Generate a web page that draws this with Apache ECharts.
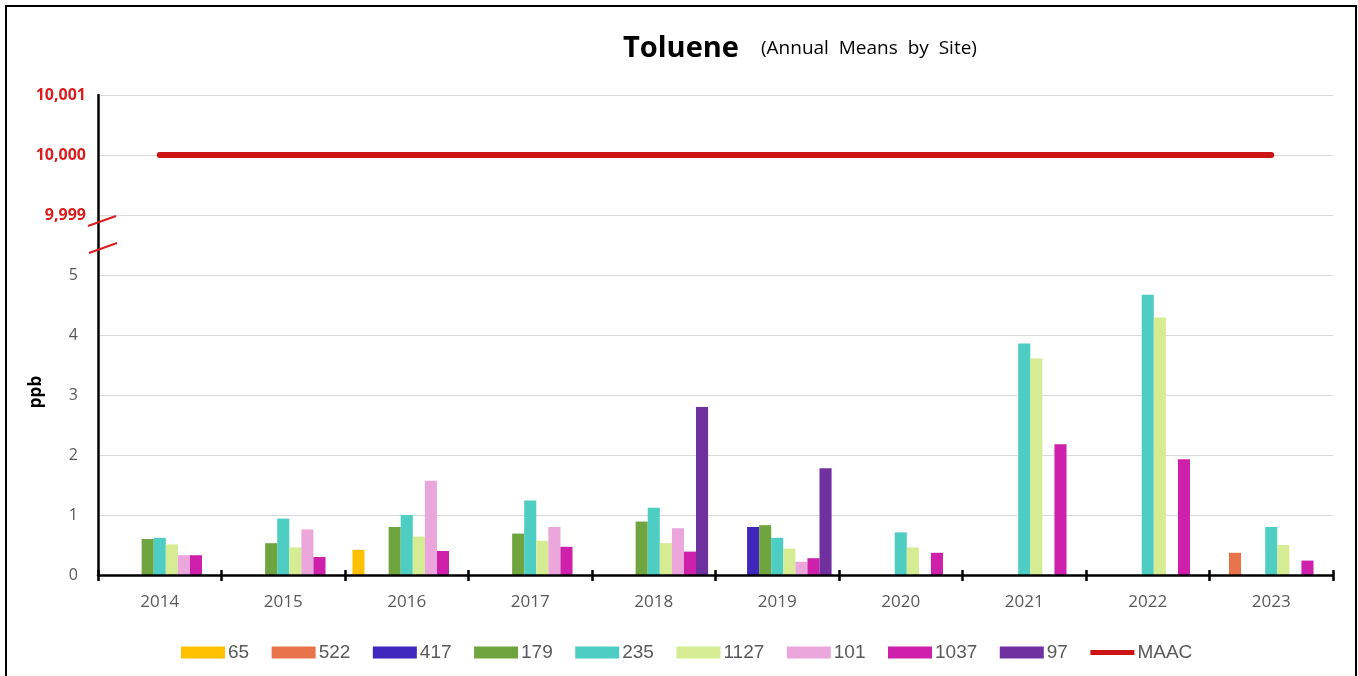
<!DOCTYPE html>
<html>
<head>
<meta charset="utf-8">
<script src="https://cdn.jsdelivr.net/npm/echarts@6/dist/echarts.min.js"></script>
<style>
  html, body { margin: 0; padding: 0; background: #ffffff; }
  #chart { width: 1358px; height: 676px; }
</style>
</head>
<body>
<div id="chart"></div>
<script>
// Annual mean toluene concentrations (ppb) by monitoring site
const years = ['2014', '2015', '2016', '2017', '2018', '2019', '2020', '2021', '2022', '2023'];

const site65   = [null, null, 0.42, null, null, null, null, null, null, null];
const site522  = [null, null, null, null, null, null, null, null, null, 0.37];
const site417  = [null, null, null, null, null, 0.80, null, null, null, null];
const site179  = [0.60, 0.53, 0.80, 0.69, 0.89, 0.83, null, null, null, null];
const site235  = [0.62, 0.94, 1.00, 1.24, 1.12, 0.62, 0.71, 3.86, 4.67, 0.80];
const site1127 = [0.51, 0.46, 0.64, 0.57, 0.53, 0.44, 0.46, 3.61, 4.29, 0.50];
const site101  = [0.33, 0.76, 1.57, 0.80, 0.78, 0.22, null, null, null, null];
const site1037 = [0.33, 0.30, 0.40, 0.47, 0.39, 0.28, 0.37, 2.18, 1.93, 0.24];
const site97   = [null, null, null, null, 2.80, 1.78, null, null, null, null];
const maac     = [10000, 10000, 10000, 10000, 10000, 10000, 10000, 10000, 10000, 10000];

// Broken value axis: 0..5 ppb shown directly, then 9,999 / 10,000 / 10,001
const lowTop = 5;
const breakOffset = 9993;
function toAxis(v) {
  if (v === null) return null;
  return v <= lowTop ? v : v - breakOffset;
}
function axisLabel(v) {
  if (v <= lowTop) return '{g|' + v + '}';
  return '{r|' + (v + breakOffset).toLocaleString('en-US') + '}';
}

const sites = [
  { name: '65',   data: site65,   color: '#FFC000' },
  { name: '522',  data: site522,  color: '#E8744C' },
  { name: '417',  data: site417,  color: '#3F27BE' },
  { name: '179',  data: site179,  color: '#6FA43F' },
  { name: '235',  data: site235,  color: '#4ECDC2' },
  { name: '1127', data: site1127, color: '#D5EC92' },
  { name: '101',  data: site101,  color: '#EBA6DC' },
  { name: '1037', data: site1037, color: '#CF20AC' },
  { name: '97',   data: site97,   color: '#7030A0' }
];

const labelFont = '"Open Sans", "DejaVu Sans", sans-serif';
const red = '#D81E1E';
const maacRed = '#CC1414';

const series = sites.map(s => ({
  name: s.name,
  type: 'bar',
  xAxisIndex: 0,
  barGap: '0%',
  barCategoryGap: '12%',
  itemStyle: { color: s.color },
  data: s.data.map(toAxis)
}));

series.push({
  name: 'MAAC',
  type: 'line',
  xAxisIndex: 0,
  symbol: 'none',
  z: 20,
  lineStyle: { color: maacRed, width: 6, cap: 'round' },
  itemStyle: { color: maacRed },
  data: maac.map(toAxis)
});

const chart = echarts.init(document.getElementById('chart'), null, { renderer: 'canvas' });

const option = {
  animation: false,
  backgroundColor: '#ffffff',
  title: {
    left: 618,
    top: 29,
    text: '{a|Toluene}{gap|}{b|(Annual  Means  by  Site)}',
    textStyle: {
      fontWeight: 'normal',
      rich: {
        a: { fontFamily: labelFont, fontWeight: 'bold', fontSize: 29, color: '#000000' },
        gap: { width: 22 },
        b: { fontFamily: labelFont, fontWeight: 'normal', fontSize: 19, color: '#000000' }
      }
    }
  },
  legend: {
    left: 176,
    top: 638,
    itemWidth: 44,
    itemHeight: 12,
    itemGap: 22.5,
    icon: 'rect',
    data: sites.map(s => s.name).concat([{ name: 'MAAC', icon: 'path://M0,0 L44,0 L44,5 L0,5 Z' }]),
    textStyle: {
      fontFamily: '"Liberation Sans Narrow", "Arial Narrow", sans-serif',
      fontSize: 19,
      color: '#595959',
      padding: [0, 0, 0, -2]
    }
  },
  grid: { left: 98, right: 25, top: 95, bottom: 101, containLabel: false },
  xAxis: [
    {
      type: 'category',
      data: years,
      axisLine: { lineStyle: { color: '#000000', width: 2.5 } },
      axisTick: { show: true, length: 6, lineStyle: { color: '#000000', width: 2.5 } },
      axisLabel: { margin: 19, fontFamily: labelFont, fontSize: 17, color: '#595959' },
      splitLine: { show: false },
      z: 10
    },
    {
      type: 'category',
      data: years,
      position: 'bottom',
      axisLine: { show: false },
      axisTick: { show: true, inside: true, length: 5, lineStyle: { color: '#000000', width: 2.5 } },
      axisLabel: { show: false },
      splitLine: { show: false },
      z: 10
    }
  ],
  yAxis: {
    type: 'value',
    min: 0,
    max: 8,
    interval: 1,
    axisLine: { show: true, lineStyle: { color: '#000000', width: 2.5 } },
    axisTick: { show: false },
    splitLine: { show: true, lineStyle: { color: '#D9D9D9', width: 1 } },
    axisLabel: {
      margin: 12,
      formatter: axisLabel,
      rich: {
        g: { fontFamily: labelFont, fontSize: 16, color: '#595959', padding: [0, 8, 0, 0] },
        r: { fontFamily: labelFont, fontSize: 16, fontWeight: 'bold', color: red }
      }
    }
  },
  series: series
};

chart.setOption(option);

// Axis break marks, frame and unit label
const x0 = chart.convertToPixel({ xAxisIndex: 0 }, years[0]);
const x1 = chart.convertToPixel({ xAxisIndex: 0 }, years[1]);
const axisX = x0 - (x1 - x0) / 2;
const breakA = chart.convertToPixel({ yAxisIndex: 0 }, 5.9);
const breakB = chart.convertToPixel({ yAxisIndex: 0 }, 5.45);
const yMid = (chart.convertToPixel({ yAxisIndex: 0 }, 0) + chart.convertToPixel({ yAxisIndex: 0 }, 8)) / 2;

chart.setOption({
  graphic: [
    {
      type: 'rect',
      shape: { x: 6, y: 6, width: 1350, height: 720 },
      style: { fill: 'none', stroke: '#000000', lineWidth: 2 },
      silent: true
    },
    {
      type: 'line',
      shape: { x1: axisX - 10, y1: breakA + 5, x2: axisX + 18, y2: breakA - 5 },
      style: { stroke: red, lineWidth: 2 },
      z: 20
    },
    {
      type: 'line',
      shape: { x1: axisX - 9, y1: breakB + 5, x2: axisX + 19, y2: breakB - 5 },
      style: { stroke: red, lineWidth: 2 },
      z: 20
    },
    {
      type: 'text',
      x: 36,
      y: yMid + 57,
      rotation: Math.PI / 2,
      style: {
        text: 'ppb',
        fontFamily: labelFont,
        fontWeight: 'bold',
        fontSize: 17,
        fill: '#000000',
        align: 'center',
        verticalAlign: 'middle'
      }
    }
  ]
});
</script>
</body>
</html>
